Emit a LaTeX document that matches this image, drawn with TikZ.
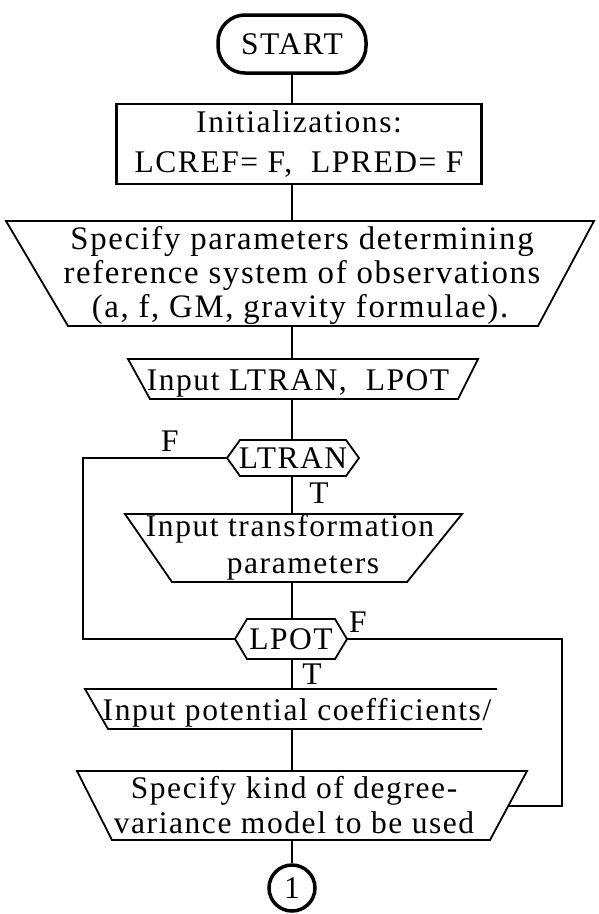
\documentclass[tikz,border=0pt]{standalone}
\usepackage{fontspec}
\setmainfont{Liberation Serif}[LetterSpace=5, Ligatures=NoCommon]
\tikzset{
  box/.style={draw, line width=1.8pt, line join=miter},
  conn/.style={line width=1.6pt},
  txt/.style={inner sep=0pt, font=\fontsize{31.5}{36}\selectfont},
  bigtxt/.style={inner sep=0pt, font=\fontsize{32.8}{36}\selectfont},
}
\begin{document}
\begin{tikzpicture}[x=1pt,y=-1pt]
\useasboundingbox (0,0) rectangle (598,914);

% START terminal
\node[draw, line width=3.5pt, rounded corners=27pt, minimum width=148pt, minimum height=58pt, txt] (start) at (292,44) {START};

% Initializations box
\node[draw, line width=2.4pt, minimum width=365pt, minimum height=80pt, inner sep=0pt, align=center, font=\fontsize{31.5}{40}\selectfont] (init) at (299,144) {Initializations:\\LCREF= F,\ \ LPRED= F};

% Specify parameters (manual operation)
\draw[box] (6,221) -- (594,221) -- (538,326) -- (68,326) -- cycle;
\node[bigtxt, anchor=base] (spec1) at (302,249) {Specify parameters determining};
\node[bigtxt, anchor=base] (spec2) at (302,283) {reference system of observations};
\node[bigtxt, anchor=base] (spec3) at (300,317) {(a, f, GM, gravity formulae).};
\coordinate (spec-t) at (292,221);
\coordinate (spec-b) at (292,326);

% Input LTRAN, LPOT
\draw[box] (128,359) -- (478,359) -- (458,399) -- (150,399) -- cycle;
\node[txt, anchor=base] (inl) at (298,390) {Input LTRAN,\ \ LPOT};
\coordinate (inl-t) at (292,359);
\coordinate (inl-b) at (292,399);

% LTRAN decision
\draw[box] (227,458) -- (240,440) -- (346,440) -- (359,458) -- (346,476) -- (240,476) -- cycle;
\node[txt] (ltran) at (293,458) {LTRAN};
\coordinate (ltran-t) at (292,440);
\coordinate (ltran-b) at (292,476);
\coordinate (ltran-l) at (227,458);
\node[txt, anchor=base] (f1) at (170,451) {F};
\node[txt, anchor=base] (t1) at (319,503) {T};

% Input transformation parameters
\draw[box] (125,514) -- (462,514) -- (407,582) -- (172,582) -- cycle;
\node[txt, anchor=base] (tr1) at (290,536) {Input transformation};
\node[txt, anchor=base] (tr2) at (303,573) {parameters};
\coordinate (tr-t) at (292,514);
\coordinate (tr-b) at (292,582);

% LPOT decision
\draw[box] (235,639) -- (247,619) -- (335,619) -- (347,639) -- (335,659) -- (247,659) -- cycle;
\node[txt] (lpot) at (291,639) {LPOT};
\coordinate (lpot-t) at (292,619);
\coordinate (lpot-b) at (292,659);
\coordinate (lpot-l) at (235,639);
\coordinate (lpot-r) at (347,639);
\node[txt, anchor=base] (f2) at (358,632) {F};
\node[txt, anchor=base] (t2) at (312,684) {T};

% Input potential coefficients
\draw[box] (497,689) -- (85,689) -- (108,729) -- (482,729);
\node[txt, anchor=base] (pot) at (297,720) {Input potential coefficients/};
\coordinate (pot-t) at (292,689);
\coordinate (pot-b) at (292,729);

% Specify kind of degree-variance model
\draw[box] (77,771) -- (527,771) -- (490,840) -- (112,840) -- cycle;
\node[txt, anchor=base] (k1) at (294,798) {Specify kind of degree-};
\node[txt, anchor=base] (k2) at (294,833) {variance model to be used};
\coordinate (kind-t) at (292,771);
\coordinate (kind-b) at (292,840);
\coordinate (kind-r) at (508.2,806);

% Connector 1
\node[draw, circle, line width=3.5pt, minimum size=46pt, txt] (c1) at (292,888) {1};

% loop corners
\coordinate (lcorner) at (83,458);
\coordinate (rcorner) at (562,639);

% connectors
\draw[conn] (start) -- (init.north -| start);
\draw[conn] (init.south -| spec-t) -- (spec-t);
\draw[conn] (spec-b) -- (inl-t);
\draw[conn] (inl-b) -- (ltran-t);
\draw[conn] (ltran-b) -- (tr-t);
\draw[conn] (tr-b) -- (lpot-t);
\draw[conn] (lpot-b) -- (pot-t);
\draw[conn] (pot-b) -- (kind-t);
\draw[conn] (kind-b) -- (c1);
\draw[conn] (lpot-l) -| (lcorner) -- (ltran-l);
\draw[conn] (lpot-r) -- (rcorner) |- (kind-r);
\end{tikzpicture}
\end{document}
